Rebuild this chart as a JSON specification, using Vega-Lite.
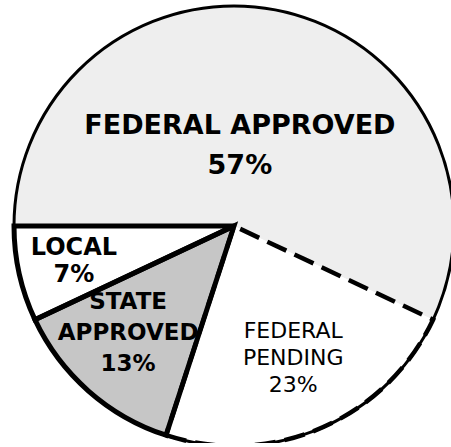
{
  "$schema": "https://vega.github.io/schema/vega-lite/v6.json",
  "width": 434,
  "height": 434,
  "padding": {"left": 17, "top": 9, "right": 0, "bottom": 0},
  "autosize": {"type": "none"},
  "background": "white",
  "config": {"view": {"stroke": null}},
  "data": {"values": [
    {"ord": 1, "category": "Federal Approved", "pct": 57, "label": "FEDERAL APPROVED\n57%"},
    {"ord": 2, "category": "Federal Pending", "pct": 23, "label": "FEDERAL\nPENDING\n23%"},
    {"ord": 3, "category": "State Approved", "pct": 13, "label": "STATE\nAPPROVED\n13%"},
    {"ord": 4, "category": "Local", "pct": 7, "label": "LOCAL\n7%"}
  ]},
  "layer": [
    {
      "mark": {"type": "arc", "radius": 220, "strokeWidth": 0},
      "encoding": {
        "theta": {"field": "pct", "type": "quantitative", "stack": true, "scale": {"range": [4.71238898038469, 10.995574287564276]}},
        "order": {"field": "ord", "type": "quantitative"},
        "color": {"field": "category", "type": "nominal", "legend": null,
          "scale": {"domain": ["Federal Approved", "Federal Pending", "State Approved", "Local"], "range": ["#eeeeee", "#ffffff", "#c6c6c6", "#ffffff"]}}
      }
    },
    {
      "mark": {"type": "arc", "radius": 220, "fillOpacity": 0, "stroke": "black", "strokeWidth": 5},
      "encoding": {
        "theta": {"field": "pct", "type": "quantitative", "stack": true},
        "order": {"field": "ord", "type": "quantitative"},
        "strokeOpacity": {"condition": {"test": "datum.category === 'State Approved' || datum.category === 'Local'", "value": 1}, "value": 0}
      }
    },
    {
      "mark": {"type": "arc", "radius": 220, "fillOpacity": 0, "stroke": "black", "strokeWidth": 4.5, "strokeDash": [21, 9]},
      "encoding": {
        "theta": {"field": "pct", "type": "quantitative", "stack": true},
        "order": {"field": "ord", "type": "quantitative"},
        "strokeOpacity": {"condition": {"test": "datum.category === 'Federal Pending'", "value": 1}, "value": 0}
      }
    },
    {
      "transform": [{"aggregate": [{"op": "sum", "field": "pct", "as": "total"}]}],
      "mark": {"type": "arc", "radius": 220, "fillOpacity": 0, "stroke": "black", "strokeWidth": 3},
      "encoding": {
        "theta": {"field": "total", "type": "quantitative", "stack": true}
      }
    },
    {
      "mark": {"type": "text", "radius": 82, "dx": -12, "dy": -20, "font": "DejaVu Sans", "fontWeight": "bold", "fontSize": 27, "lineHeight": 40, "lineBreak": "\n", "align": "center", "baseline": "middle", "color": "black"},
      "encoding": {
        "theta": {"field": "pct", "type": "quantitative", "stack": true},
        "order": {"field": "ord", "type": "quantitative"},
        "text": {"condition": {"test": "datum.category === 'Federal Approved'", "field": "label", "type": "nominal"}, "value": ""}
      }
    },
    {
      "mark": {"type": "text", "radius": 144, "dx": 2, "dy": -27, "font": "DejaVu Sans", "fontWeight": "normal", "fontSize": 22, "lineHeight": 27, "lineBreak": "\n", "align": "center", "baseline": "middle", "color": "black"},
      "encoding": {
        "theta": {"field": "pct", "type": "quantitative", "stack": true},
        "order": {"field": "ord", "type": "quantitative"},
        "text": {"condition": {"test": "datum.category === 'Federal Pending'", "field": "label", "type": "nominal"}, "value": ""}
      }
    },
    {
      "mark": {"type": "text", "radius": 142, "dx": -12, "dy": -31, "font": "DejaVu Sans", "fontWeight": "bold", "fontSize": 23, "lineHeight": 31, "lineBreak": "\n", "align": "center", "baseline": "middle", "color": "black"},
      "encoding": {
        "theta": {"field": "pct", "type": "quantitative", "stack": true},
        "order": {"field": "ord", "type": "quantitative"},
        "text": {"condition": {"test": "datum.category === 'State Approved'", "field": "label", "type": "nominal"}, "value": ""}
      }
    },
    {
      "mark": {"type": "text", "radius": 160, "dx": -4, "dy": -13, "font": "DejaVu Sans", "fontWeight": "bold", "fontSize": 24, "lineHeight": 27, "lineBreak": "\n", "align": "center", "baseline": "middle", "color": "black"},
      "encoding": {
        "theta": {"field": "pct", "type": "quantitative", "stack": true},
        "order": {"field": "ord", "type": "quantitative"},
        "text": {"condition": {"test": "datum.category === 'Local'", "field": "label", "type": "nominal"}, "value": ""}
      }
    }
  ]
}
